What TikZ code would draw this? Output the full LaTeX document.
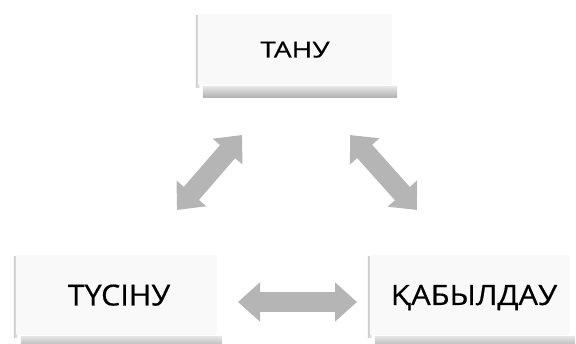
\documentclass[tikz,border=0pt]{standalone}
\usepackage{fontspec}
\setmainfont{Open Sans}[FakeBold=0.5]
\usetikzlibrary{arrows.meta,backgrounds}
\tikzset{
  box/.style={rectangle, rounded corners=2pt, fill=gray!5, inner sep=0pt,
    text=black, text depth=0pt},
  bigarrow/.style={line width=20pt, draw=gray!58,
    {Triangle[length=22pt,width=38pt]}-{Triangle[length=22pt,width=38pt]}},
  shadowstrip/.style={top color=gray!20, bottom color=gray!60, draw=none},
  edgestrip/.style={left color=gray!40, right color=gray!10, draw=none}
}
\begin{document}
\begin{tikzpicture}[x=1pt,y=1pt]
\useasboundingbox (0,0) rectangle (576,344);
% boxes (y = 344 - pixel y)
\node[box, minimum width=194pt, minimum height=71pt, text height=16pt,
  font=\fontsize{22}{26}\selectfont] (tanu) at (295,294.5) {\scalebox{1.27}[1]{ТАНУ}};
\node[box, minimum width=201pt, minimum height=80pt, text height=21pt,
  font=\fontsize{29}{34}\selectfont] (tusinu) at (116.5,49) {\hspace*{5pt}\scalebox{1.05}[1]{ТҮСІНУ}};
\node[box, minimum width=200pt, minimum height=80pt, text height=20pt,
  font=\fontsize{28}{33}\selectfont] (qabyldau) at (470,49) {\hspace*{8pt}\scalebox{1.1}[1]{ҚАБЫЛДАУ}};
\begin{scope}[on background layer]
  \foreach \n in {tanu,tusinu,qabyldau}{
    \fill[shadowstrip] ([xshift=5pt,yshift=-12pt]\n.south west) rectangle ([xshift=5pt,yshift=-1pt]\n.south east);
    \fill[edgestrip] ([xshift=-2pt,yshift=-2pt]\n.south west) rectangle ([xshift=2pt,yshift=-2pt]\n.north west);
  }
\end{scope}
% arrow end points
\coordinate (l1) at (242,209);
\coordinate (l2) at (177,134);
\coordinate (r1) at (350,209);
\coordinate (r2) at (417,134);
\coordinate (h1) at (238,42);
\coordinate (h2) at (357,42);
\draw[bigarrow] (l1) -- (l2);
\draw[bigarrow] (r1) -- (r2);
\draw[bigarrow] (h1) -- (h2);
\end{tikzpicture}
\end{document}
